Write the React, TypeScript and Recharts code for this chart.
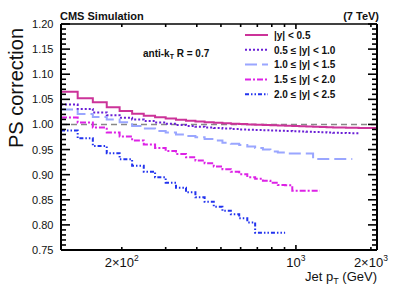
import React from "react";
import { LineChart, Line, XAxis, YAxis, ReferenceLine } from "recharts";

// jet pT bin edges (GeV)
const ptEdges = [
  114, 133, 153, 174, 196, 220, 245, 272, 300, 330, 362, 395, 430, 468, 507, 548,
  592, 638, 686, 737, 790, 846, 905, 967, 1032, 1101, 1172, 1248, 1327, 1410, 1497,
  1588, 1684, 1784, 1890, 2000, 2116,
];

// PS correction per bin, one array per rapidity slice
const psY00 = [
  1.065, 1.052, 1.044, 1.034, 1.027, 1.0215, 1.0175, 1.0145, 1.012, 1.0095, 1.0075, 1.006,
  1.0045, 1.0035, 1.0025, 1.0015, 1.0008, 1.0, 0.9995, 0.999, 0.9985, 0.998, 0.9975, 0.997,
  0.9965, 0.996, 0.9955, 0.995, 0.9945, 0.994, 0.994, 0.9935, 0.9935, 0.993, 0.993, 0.993,
];
const psY05 = [
  1.0395, 1.031, 1.024, 1.0185, 1.0135, 1.01, 1.007, 1.004, 1.0015, 0.999, 0.997, 0.9955,
  0.994, 0.993, 0.992, 0.991, 0.99, 0.9895, 0.989, 0.9885, 0.988, 0.9875, 0.987, 0.9865,
  0.986, 0.9855, 0.985, 0.9845, 0.984, 0.9835, 0.983, 0.9828, 0.9825,
];
const psY10 = [
  1.03, 1.021, 1.015, 1.0096, 1.0043, 0.997, 0.992, 0.987, 0.984, 0.98, 0.977, 0.9745,
  0.971, 0.968, 0.9635, 0.9615, 0.959, 0.956, 0.953, 0.95, 0.946, 0.944, 0.942, 0.942,
  0.942, 0.942, 0.931, 0.931, 0.931, 0.931, 0.931, 0.931,
];
const psY15 = [
  1.014, 1.004, 0.994, 0.984, 0.976, 0.968, 0.96, 0.953, 0.947, 0.941, 0.9347, 0.928,
  0.9227, 0.9165, 0.911, 0.906, 0.901, 0.895, 0.892, 0.888, 0.884, 0.8795, 0.879, 0.868,
  0.868, 0.868, 0.868,
];
const psY20 = [
  0.9877, 0.9725, 0.957, 0.9426, 0.9307, 0.918, 0.906, 0.8948, 0.8841, 0.874, 0.865, 0.855,
  0.846, 0.836, 0.828, 0.821, 0.813, 0.805, 0.7845, 0.7845, 0.7845, 0.7845,
];

const seriesNames = [
  "|y| < 0.5",
  "0.5 \u2264 |y| < 1.0",
  "1.0 \u2264 |y| < 1.5",
  "1.5 \u2264 |y| < 2.0",
  "2.0 \u2264 |y| < 2.5",
];
const seriesValues = [psY00, psY05, psY10, psY15, psY20];
const seriesColors = ["#cc3399", "#6a1fd6", "#9aa6ff", "#dd22e6", "#2233ee"];
const seriesDash = [undefined, "2 2", "12 5", "6 2 2 2", "4 2 1.5 2 1.5 2"];

const yMajor = [0.75, 0.8, 0.85, 0.9, 0.95, 1.0, 1.05, 1.1, 1.15, 1.2];
const yTicks = Array.from({ length: 46 }, (_, i) => Math.round((0.75 + i * 0.01) * 100) / 100);
const xTicks = [200, 300, 400, 500, 600, 700, 800, 900, 1000, 2000];
const xLabels: Record<number, [string, string]> = {
  200: ["2\u00d710", "2"],
  1000: ["10", "3"],
  2000: ["2\u00d710", "3"],
};

const FONT = "'Liberation Sans', Arial, Helvetica, sans-serif";

// step curve: value at each low edge, plus closing point at the last high edge
function toSteps(vals: number[]) {
  const pts = vals.map((v, i) => ({ pt: ptEdges[i], v }));
  pts.push({ pt: ptEdges[vals.length], v: vals[vals.length - 1] });
  return pts;
}

const isMajorY = (v: number) => yMajor.some((m) => Math.abs(m - v) < 1e-6);

function LeftTick({ x, y, payload }: any) {
  const major = isMajorY(payload.value);
  return (
    <g>
      <line x1={x} x2={x + (major ? 9 : 5)} y1={y} y2={y} stroke="#000" strokeWidth={1.6} />
      {major && (
        <text x={x - 7.5} y={y + 4} textAnchor="end" fontSize={11} fontFamily={FONT} fill="#111">
          {payload.value.toFixed(2)}
        </text>
      )}
    </g>
  );
}

function RightTick({ x, y, payload }: any) {
  const major = isMajorY(payload.value);
  return <line x1={x} x2={x - (major ? 9 : 5)} y1={y} y2={y} stroke="#000" strokeWidth={1.6} />;
}

function BottomTick({ x, y, payload }: any) {
  const lab = xLabels[payload.value];
  const decade = payload.value === 1000;
  return (
    <g>
      <line x1={x} x2={x} y1={y} y2={y - (decade ? 5 : 3)} stroke="#000" strokeWidth={1.6} />
      {lab && (
        <text x={x} y={y + 16.5} textAnchor="middle" fontSize={13} fontFamily={FONT} fill="#111">
          {lab[0]}
          <tspan dy={-5.5} fontSize={8.5}>{lab[1]}</tspan>
        </text>
      )}
    </g>
  );
}

function TopTick({ x, y, payload }: any) {
  const decade = payload.value === 1000;
  return <line x1={x} x2={x} y1={y} y2={y + (decade ? 5 : 3)} stroke="#000" strokeWidth={1.6} />;
}

function Overlay() {
  return (
    <svg
      width={399}
      height={294}
      style={{ position: "absolute", left: 0, top: 0, pointerEvents: "none" }}
      fontFamily={FONT}
    >
      <text x={60} y={20} fontSize={11} fontWeight="bold" fill="#111">CMS Simulation</text>
      <text x={379} y={20} fontSize={11} fontWeight="bold" fill="#111" textAnchor="end">(7 TeV)</text>
      <text x={143} y={56.5} fontSize={10} fontWeight="bold" fill="#111">
        anti-k<tspan dy={2.5} fontSize={7}>T</tspan>
        <tspan dy={-2.5}> R = 0.7</tspan>
      </text>
      <text
        transform="translate(23,88) rotate(-90)"
        textAnchor="middle"
        fontSize={20}
        fill="#111"
      >
        PS correction
      </text>
      <text x={377} y={281} textAnchor="end" fontSize={13} fill="#111">
        Jet p<tspan dy={3} fontSize={9}>T</tspan>
        <tspan dy={-3}> (GeV)</tspan>
      </text>
      {/* legend */}
      {seriesNames.map((name, i) => {
        const cy = 35 + i * 14.8;
        return (
          <g key={name}>
            <line
              x1={245}
              x2={268}
              y1={cy}
              y2={cy}
              stroke={seriesColors[i]}
              strokeWidth={2}
              strokeDasharray={seriesDash[i]}
            />
            <text x={274} y={cy + 3.8} fontSize={10} fontWeight="bold" fill="#111">
              {name}
            </text>
          </g>
        );
      })}
    </svg>
  );
}

export default function App() {
  return (
    <div style={{ position: "absolute", left: 0, top: 0, width: 399, height: 294, background: "#fff" }}>
      <LineChart width={399} height={294} margin={{ top: 0, right: 0, bottom: 0, left: 0 }}>
        <XAxis
          xAxisId="b"
          dataKey="pt"
          type="number"
          scale="log"
          domain={[114, 2116]}
          allowDataOverflow
          ticks={xTicks}
          interval={0}
          height={44}
          tickSize={0}
          tickMargin={0}
          tickLine={false}
          tick={<BottomTick />}
          axisLine={{ stroke: "#000", strokeWidth: 2 }}
        />
        <XAxis
          xAxisId="t"
          orientation="top"
          dataKey="pt"
          type="number"
          scale="log"
          domain={[114, 2116]}
          allowDataOverflow
          ticks={xTicks}
          interval={0}
          height={24}
          tickSize={0}
          tickMargin={0}
          tickLine={false}
          tick={<TopTick />}
          axisLine={{ stroke: "#000", strokeWidth: 1.5 }}
        />
        <YAxis
          yAxisId="l"
          type="number"
          domain={[0.75, 1.2]}
          allowDataOverflow
          ticks={yTicks}
          interval={0}
          width={61}
          tickSize={0}
          tickMargin={0}
          tickLine={false}
          tick={<LeftTick />}
          axisLine={{ stroke: "#000", strokeWidth: 2 }}
        />
        <YAxis
          yAxisId="r"
          orientation="right"
          type="number"
          domain={[0.75, 1.2]}
          allowDataOverflow
          ticks={yTicks}
          interval={0}
          width={22}
          tickSize={0}
          tickMargin={0}
          tickLine={false}
          tick={<RightTick />}
          axisLine={{ stroke: "#000", strokeWidth: 2 }}
        />
        <ReferenceLine
          xAxisId="b"
          yAxisId="l"
          y={1}
          stroke="#888"
          strokeWidth={1.5}
          strokeDasharray="6 4"
        />
        {seriesValues.map((vals, i) => (
          <Line
            key={seriesNames[i]}
            xAxisId="b"
            yAxisId="l"
            data={toSteps(vals)}
            dataKey="v"
            name={seriesNames[i]}
            type="stepAfter"
            stroke={seriesColors[i]}
            strokeWidth={2}
            strokeDasharray={seriesDash[i]}
            dot={false}
            activeDot={false}
            isAnimationActive={false}
          />
        ))}
      </LineChart>
      <Overlay />
    </div>
  );
}
